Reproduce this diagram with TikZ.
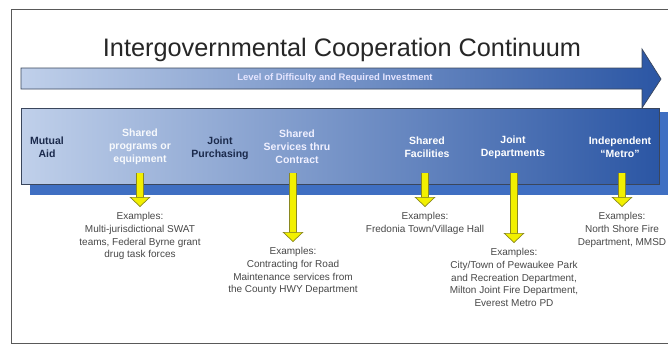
\documentclass[tikz,border=0pt]{standalone}
\usepackage{fontspec}
\setmainfont{Liberation Sans}
\usetikzlibrary{arrows.meta}

\definecolor{bandlight}{HTML}{C0D0EA}
\definecolor{banddark}{HTML}{2B56A4}
\definecolor{bandshadow}{HTML}{3F6FC2}
\definecolor{bandedge}{HTML}{3A465C}
\definecolor{labelnavy}{HTML}{1B2A4C}
\definecolor{exgray}{HTML}{474747}
\definecolor{pointeryellow}{HTML}{F2F000}
\definecolor{pointeredge}{HTML}{8A8820}

\tikzset{
  stage/.style={font=\bfseries\fontsize{10.5}{13}\selectfont, align=center, text=white, inner sep=0pt},
  darkstage/.style={stage, text=labelnavy},
  example/.style={font=\fontsize{10}{12.8}\selectfont, align=center, text=exgray, inner sep=0pt, anchor=north},
  pointer/.style={draw=pointeryellow, line width=6pt, shorten >=5pt,
    preaction={-, draw=pointeredge, line width=7.4pt, shorten >=14pt},
    -{Triangle[width=21pt,length=10pt,line width=0.7pt,color=pointeredge,fill=pointeryellow]}},
}

\begin{document}
\begin{tikzpicture}[x=1pt,y=-1pt]
  \useasboundingbox (0,0) rectangle (668,346);

  % outer frame
  \draw[gray!70!black, line width=1pt] (11,9) rectangle (690,343);

  % title
  \node[font=\fontsize{25.3}{28}\selectfont, text=black!85] (title) at (342,50) {Intergovernmental Cooperation Continuum};

  % the long arrow
  \shadedraw[left color=bandlight, right color=banddark, draw=bandedge, line width=0.7pt]
    (21,68) -- (642,68) -- (642,49) -- (661,79) -- (642,108) -- (642,89) -- (21,89) -- cycle;
  \node[font=\bfseries\fontsize{9.5}{11}\selectfont, text=white!90!blue] (level) at (335,78.5) {Level of Difficulty and Required Investment};

  % the band with its shadow
  \fill[bandshadow] (30,112) rectangle (690,195);
  \shadedraw[left color=bandlight, right color=banddark, draw=bandedge, line width=0.7pt] (21,108) rectangle (659,184);

  % stages
  \node[darkstage] (mutual) at (47,147) {Mutual\\Aid};
  \node[stage, text=white!88!bandlight] (programs) at (140,147) {Shared\\programs or\\equipment};
  \node[darkstage] (purchasing) at (220,148) {Joint\\Purchasing};
  \node[stage, text=white!94!blue] (contract) at (297,147) {Shared\\Services thru\\Contract};
  \node[stage] (facilities) at (427,147) {Shared\\Facilities};
  \node[stage] (departments) at (513,147) {Joint\\Departments};
  \node[stage] (metro) at (620,147) {Independent\\``Metro''};

  % examples
  \node[example] (exprograms) at (140,212) {Examples:\\Multi-jurisdictional SWAT\\teams, Federal Byrne grant\\drug task forces};
  \node[example] (excontract) at (293,247) {Examples:\\Contracting for Road\\Maintenance services from\\the County HWY Department};
  \node[example] (exfacilities) at (425,212) {Examples:\\Fredonia Town/Village Hall};
  \node[example] (exdepartments) at (514,248) {Examples:\\City/Town of Pewaukee Park\\and Recreation Department,\\Milton Joint Fire Department,\\Everest Metro PD};
  \node[example] (exmetro) at (622,212) {Examples:\\North Shore Fire\\Department, MMSD};

  % yellow pointers
  \coordinate (programs-foot) at (140,173);
  \coordinate (contract-foot) at (293,173);
  \coordinate (facilities-foot) at (425,173);
  \coordinate (departments-foot) at (514,173);
  \coordinate (metro-foot) at (622,173);
  \draw[pointer] (programs-foot) -- (exprograms.north);
  \draw[pointer] (contract-foot) -- (excontract.north);
  \draw[pointer] (facilities-foot) -- (exfacilities.north);
  \draw[pointer] (departments-foot) -- (exdepartments.north);
  \draw[pointer] (metro-foot) -- (exmetro.north);

\end{tikzpicture}
\end{document}
